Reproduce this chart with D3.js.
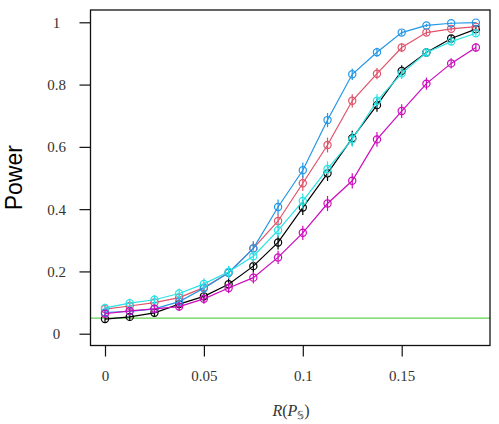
<!DOCTYPE html>
<html>
<head>
<meta charset="utf-8">
<script src="https://cdn.jsdelivr.net/npm/d3@7"></script>
<style>
  body { margin: 0; background: #fff; }
  .tick line { stroke: #111; stroke-width: 1.2; }
</style>
</head>
<body>
<svg id="chart"></svg>
<script>
// x values of the simulation grid
const rValues = [0, 0.0125, 0.025, 0.0375, 0.05, 0.0625, 0.075, 0.0875,
                 0.1, 0.1125, 0.125, 0.1375, 0.15, 0.1625, 0.175, 0.1875];

// estimated power for each method
const powerBlack   = [0.047, 0.054, 0.067, 0.095, 0.120, 0.159, 0.217, 0.293,
                      0.405, 0.515, 0.628, 0.734, 0.844, 0.903, 0.948, 0.978];
const powerRed     = [0.079, 0.089, 0.100, 0.116, 0.148, 0.196, 0.274, 0.362,
                      0.483, 0.606, 0.748, 0.835, 0.919, 0.967, 0.979, 0.986];
const powerBlue    = [0.068, 0.072, 0.080, 0.103, 0.146, 0.196, 0.274, 0.407,
                      0.525, 0.686, 0.833, 0.904, 0.967, 0.990, 0.997, 0.999];
const powerCyan    = [0.083, 0.098, 0.109, 0.129, 0.160, 0.199, 0.249, 0.332,
                      0.426, 0.529, 0.624, 0.748, 0.836, 0.903, 0.938, 0.965];
const powerMagenta = [0.064, 0.073, 0.080, 0.087, 0.112, 0.147, 0.180, 0.245,
                      0.324, 0.418, 0.491, 0.624, 0.715, 0.803, 0.868, 0.919];

const seriesColors = ["#000000", "#DF536B", "#2297E6", "#28E2E5", "#CD0BBC"];
const nominalLevel = 0.05;
const nRuns = 1600; // replicates behind each power estimate

const xTicks = [0, 0.05, 0.1, 0.15];
const xTickLabels = ["0", "0.05", "0.1", "0.15"];
const yTicks = [0, 0.2, 0.4, 0.6, 0.8, 1];
const yTickLabels = ["0", "0.2", "0.4", "0.6", "0.8", "1"];

const seriesData = [powerBlack, powerRed, powerBlue, powerCyan, powerMagenta]
  .map((vals, i) => ({
    color: seriesColors[i],
    values: vals.map((p, j) => ({ r: rValues[j], p: p }))
  }));

const width = 499, height = 424;
const box = { left: 90.5, right: 490, top: 10, bottom: 345.5 };
const serif = "Liberation Serif";

const svg = d3.select("#chart")
  .attr("width", width)
  .attr("height", height);

const chart = svg.append("g")
  .attr("transform", `translate(${box.left},0)`);

// scales, anchored on the tick positions of the reference
const xScale = d3.scaleLinear()
  .domain([0, 0.15])
  .range([105 - box.left, 401.7 - box.left]);

const yScale = d3.scaleLinear()
  .domain([0, 1])
  .range([333.7, 22.3]);

// axes
const xAxis = d3.axisBottom(xScale)
  .tickValues(xTicks)
  .tickSize(11)
  .tickSizeOuter(0)
  .tickPadding(14)
  .tickFormat((d, i) => xTickLabels[i]);

const yAxis = d3.axisLeft(yScale)
  .tickValues(yTicks)
  .tickSize(11)
  .tickSizeOuter(0)
  .tickFormat((d, i) => yTickLabels[i]);

const xAxisG = chart.append("g")
  .attr("transform", `translate(0,${box.bottom})`)
  .call(xAxis);
xAxisG.select(".domain").remove();
xAxisG.selectAll(".tick text")
  .attr("font-family", serif)
  .attr("font-size", 15)
  .attr("fill", "#333");

const yAxisG = chart.append("g")
  .call(yAxis);
yAxisG.select(".domain").remove();
yAxisG.selectAll(".tick text")
  .attr("text-anchor", "middle")
  .attr("x", 56.5 - box.left)
  .attr("dy", "0.34em")
  .attr("font-family", serif)
  .attr("font-size", 15)
  .attr("fill", "#333");

// nominal level
chart.append("line")
  .attr("x1", 0)
  .attr("x2", box.right - box.left)
  .attr("y1", yScale(nominalLevel))
  .attr("y2", yScale(nominalLevel))
  .attr("stroke", "#61D04F")
  .attr("stroke-width", 1.2);

const line = d3.line()
  .x(d => xScale(d.r))
  .y(d => yScale(d.p));

const groups = chart.selectAll(".series")
  .data(seriesData)
  .enter()
  .append("g")
  .attr("class", "series");

groups.append("path")
  .attr("d", d => line(d.values))
  .attr("fill", "none")
  .attr("stroke", d => d.color)
  .attr("stroke-width", 1.2);

// error bars (95% binomial interval)
groups.selectAll(".err")
  .data(d => d.values.map(v => ({ ...v, color: d.color })))
  .enter()
  .append("line")
  .attr("class", "err")
  .attr("x1", d => xScale(d.r))
  .attr("x2", d => xScale(d.r))
  .attr("y1", d => yScale(d.p - 1.96 * Math.sqrt(d.p * (1 - d.p) / nRuns)))
  .attr("y2", d => yScale(d.p + 1.96 * Math.sqrt(d.p * (1 - d.p) / nRuns)))
  .attr("stroke", d => d.color)
  .attr("stroke-width", 1.2);

groups.selectAll(".pt")
  .data(d => d.values.map(v => ({ ...v, color: d.color })))
  .enter()
  .append("circle")
  .attr("class", "pt")
  .attr("cx", d => xScale(d.r))
  .attr("cy", d => yScale(d.p))
  .attr("r", 3.6)
  .attr("fill", "none")
  .attr("stroke", d => d.color)
  .attr("stroke-width", 1.2);

// frame
chart.append("rect")
  .attr("x", 0)
  .attr("y", box.top)
  .attr("width", box.right - box.left)
  .attr("height", box.bottom - box.top)
  .attr("fill", "none")
  .attr("stroke", "#111")
  .attr("stroke-width", 1.3);

// axis titles
svg.append("text")
  .attr("transform", `translate(22,${(box.top + box.bottom) / 2}) rotate(-90)`)
  .attr("text-anchor", "middle")
  .attr("font-family", "Liberation Sans")
  .attr("font-size", 23)
  .attr("fill", "#000")
  .text("Power");

const xTitle = svg.append("text")
  .attr("x", 291)
  .attr("y", 416)
  .attr("text-anchor", "middle")
  .attr("font-family", serif)
  .attr("font-size", 16)
  .attr("fill", "#333");
xTitle.append("tspan").attr("font-style", "italic").text("R");
xTitle.append("tspan").text("(");
xTitle.append("tspan").attr("font-style", "italic").text("P");
xTitle.append("tspan")
  .attr("dy", 3)
  .attr("font-size", 11)
  .text("\u{1D54A}");
xTitle.append("tspan").attr("dy", -3).text(")");
</script>
</body>
</html>
